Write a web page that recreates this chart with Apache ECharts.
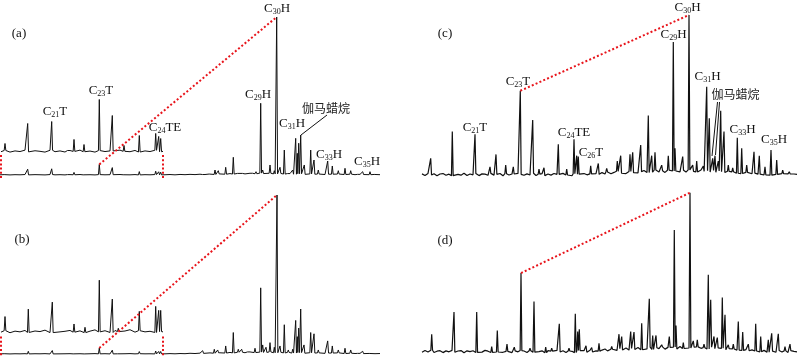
<!DOCTYPE html>
<html>
<head>
<meta charset="utf-8">
<script src="https://cdn.jsdelivr.net/npm/echarts@6/dist/echarts.min.js"></script>
<style>html,body{margin:0;padding:0;background:#fff}#c{width:800px;height:361px}</style>
</head>
<body>
<div id="c"></div>
<script>
// ---------- DATA (relative abundance, C30H = 100; time in arbitrary retention units) ----------
// Panel (a)
const aWindow = [1, 163];               // early-eluting window that is magnified in the inset
const aEarly = [[5,1.14],[27.7,3.67],[51.7,3.92],[68.3,0.38],[74,1.65],[84,1.01],[99.3,6.71],[112.3,4.68],[124,0.89],[139.3,2.15],[155.7,2.41],[158.7,2.03],[160.7,1.77]];
const aLate = [[203.3,0.63],[210,0.95],[215,3.16],[218.3,2.72],[225.7,4.87],[233.3,11.2],[238.3,2.09],[241.7,1.46],[251.7,1.08],[256,2.09],[260.7,45.4],[262.7,3.16],[270,6.33],[274.3,2.72],[276.7,100],[280,4.87],[284.3,15.8],[288.3,2.09],[292.7,3.16],[295.7,23.2],[297.3,13.7],[298.7,20.1],[300.7,25.3],[304.3,6.33],[310.7,15.8],[314,9.49],[318.3,3.16],[327.7,8.86],[332.3,5.7],[338.3,2.72],[345,4.24],[350.7,2.72],[358.3,1.46],[362.7,2.09],[370,2.09],[375,1.08]];
const aNoise = [0.1,0.25,0.05,0.2,0.12,0.3,0.08,0.22,0.15,0.05,0.28,0.1,0.2,0.06,0.25,0.14,0.3,0.1,0.18,0.05,0.24,0.12,0.2,0.08,0.3,0.15,0.1,0.26,0.06,0.2,0.12,0.28,0.1,
  0.15,0.3,0.1,0.35,0.2,0.4,0.25,0.5,0.3,0.6,0.35,0.7,0.5,0.9,0.6,1.0,0.7,1.1,0.8,1.2,0.9,1.1,0.7,1.0,0.6,0.9,0.5,0.8,0.4,0.7,0.5,0.6,0.3,0.5,0.4,0.6,0.3,0.5,0.2,0.4,0.3,0.2,0.35,0.2];
const aNoiseStep = 5;
const aLink = [99.3, 276.7];            // C23T -> C30H

// Panel (b)
const bWindow = [1, 163];
const bEarly = [[5,1.17],[28.3,1.69],[52.3,2.18],[74,0.65],[85,0.42],[99.3,3.71],[112.3,2.39],[118.3,0.35],[139.3,1.53],[155.7,1.88],[158.7,1.6],[160.7,1.6]];
const bLate = [[202.7,2.09],[214.3,2.97],[217.7,2.53],[225.7,5.06],[233.3,13.5],[238.3,2.97],[241.7,2.97],[248.3,2.53],[255,3.61],[260.7,41.6],[262.7,5.7],[266,4.24],[270,7.15],[274.3,4.24],[277,100],[280,5.06],[284.3,18.4],[288.3,2.53],[292.7,2.97],[295.7,21.1],[297.3,10.9],[298.7,16.3],[300.7,28.3],[304,5.7],[310.7,13.5],[314,12.7],[318.3,2.53],[327.7,8.23],[332.3,5.06],[338.3,2.53],[345,3.61],[350.7,2.53],[358.3,1.46],[362.7,1.71],[370,1.46]];
const bNoise = [0.08,0.18,0.04,0.15,0.1,0.2,0.06,0.16,0.12,0.22,0.05,0.18,0.1,0.14,0.2,0.08,0.17,0.05,0.15,0.24,0.1,0.18,0.06,0.2,0.12,0.16,0.25,0.08,0.18,0.1,0.14,0.06,0.12,
  0.1,0.25,0.12,0.3,0.2,0.45,0.3,0.55,0.4,0.7,0.5,0.8,0.6,1.0,0.7,1.1,0.8,1.3,0.9,1.2,1.0,1.3,0.8,1.1,0.7,1.0,0.6,0.9,0.5,0.8,0.6,0.7,0.4,0.6,0.5,0.7,0.3,0.5,0.3,0.4,0.25,0.35,0.2,0.3];
const bNoiseStep = 5;
const bLink = [99.3, 277];

// Panel (c)
const cPeaks = [[8.7,10.1],[30.3,26.9],[53,25.2],[68,4.85],[74,12.6],[83.7,5.86],[91.3,4.85],[98.3,52.5],[110.7,34.2],[117,3.34],[122,4.22],[136.3,18.9],[144.7,3.34],[152,22.1],[154.7,11.8],[156.3,11.2],[168.7,5.48],[176.3,6.93],[184.7,3.78],[195.3,8.38],[198.7,11.8],[208,12.6],[210.7,13.9],[218.7,18.5],[226.3,37.0],[229.7,11.8],[233,13.9],[239.7,5.86],[246.3,11.8],[251.3,83],[253,16.4],[260.7,11.2],[267,100],[270.7,5.86],[274.7,8.38],[281.3,5.23],[284.7,55],[287.3,35.3],[290.7,10.1],[293,11.8],[296.3,8.38],[298.7,39.9],[302,26.9],[306.3,5.86],[310.7,4.22],[315.3,23.1],[319.7,16.4],[324.7,5.86],[332,14.3],[337.3,11.8],[343,4.85],[349,15.3],[354.7,9.0],[360.7,2.71],[367.3,1.7]];
const cNoise = [0.4,-0.6,0.7,-0.3,0.5,-0.8,0.3,0.6,-0.5,0.2,-0.7,0.5,0.1,-0.4,0.8,-0.6,0.3,-0.2,0.6,-0.7,0.4,0.2,-0.5,0.7,-0.4,0.1,0.6,-0.8,0.5,-0.3,0.3,-0.6,0.7,0.1,-0.5,0.4,-0.3,0.8,-0.6,0.2,0.5,-0.7,0.3,-0.4,0.6,0.1,-0.5,0.7,-0.3,0.4,-0.8,0.5,0.2,-0.6,0.6,-0.2,0.4,-0.7,0.5,0.1,
  1.2,0.3,1.6,0.5,1.3,2.0,0.8,1.7,0.6,1.9,1.1,2.3,1.0,1.8,2.5,1.2,2.2,1.4,2.8,1.6,2.4,1.3,2.7,1.8,2.2,3.0,1.7,2.6,1.5,2.9,2.0,2.5,1.6,2.8,1.9,2.4,1.5,2.6,1.4,2.2,1.8,1.2,2.0,1.0,1.7,0.8,1.5,0.6,1.3,0.9,0.5,
  0.9,0.2,0.7,-0.3,0.6,-0.4,0.5,0.1,-0.5,0.6,-0.2,0.4,-0.6,0.3,0.1];
const cNoiseStep = 3;
const cLink = [98.3, 267];

// Panel (d)
const dPeaks = [[9.7,10.9],[32,24.8],[54.7,24.8],[69.7,3.15],[75.3,13.2],[85,4.6],[92.3,2.7],[99,49.4],[108,2.1],[112,31.5],[123.7,2.7],[129.7,2.1],[137.3,17.5],[147,2.1],[153.3,23.8],[155.7,12.6],[157.3,14.0],[164,3.6],[169.7,2.5],[177,5.2],[184.7,2.1],[189.7,3.15],[197,10.9],[199.7,9.45],[208.7,12.6],[212,12.2],[219.7,17.8],[227.3,33.2],[230.7,10.1],[234,10.1],[239.7,4.2],[247.3,9.45],[252.3,76.5],[254,16.4],[261.3,5.67],[268,100],[271.3,6.7],[275.3,7.4],[282,4.6],[286.3,48.3],[288.7,32.6],[292,9.45],[295.3,8.8],[300.3,34.0],[303,23.1],[306.3,4.2],[311.3,4.6],[316.3,18.9],[320.7,12.2],[326.3,4.6],[333.7,17.5],[338.7,9.45],[346.3,7.4],[349.7,11.5],[356.3,11.2],[363,3.15],[368,4.6]];
const dNoise = [-0.5,0.6,-0.3,0.8,-0.6,0.2,0.5,-0.7,0.4,-0.2,0.7,-0.5,0.3,0.6,-0.8,0.4,-0.1,0.5,-0.6,0.3,-0.4,0.7,0.2,-0.6,0.5,-0.3,0.8,-0.5,0.1,0.6,-0.7,0.4,-0.2,0.6,0.3,-0.6,0.5,-0.4,0.7,-0.1,0.4,-0.8,0.6,0.2,-0.5,0.7,-0.3,0.5,-0.6,0.3,0.1,-0.7,0.6,-0.2,0.5,-0.5,0.8,-0.3,0.4,0.2,
  0.9,1.6,0.4,1.4,2.0,0.7,1.8,1.0,2.2,0.9,1.9,1.3,2.5,1.1,2.1,1.6,2.7,1.3,2.4,1.8,2.9,1.5,2.6,2.0,2.8,1.6,3.1,1.9,2.5,2.2,2.7,1.7,2.9,2.0,2.4,1.6,2.7,1.8,2.3,1.4,2.0,1.1,1.8,1.3,1.6,0.9,1.4,0.7,1.2,0.5,1.0,
  0.3,0.8,-0.2,0.7,-0.4,0.5,0.2,-0.5,0.6,-0.3,0.4,-0.6,0.5,0.1,-0.2];
const dNoiseStep = 3;
const dLink = [99, 268];

// ---------- BUILDERS ----------
function trace(peaks, noise, step, lo, hi) {
  const foot = t => noise[Math.min(noise.length - 1, Math.max(0, Math.round(t / step)))];
  const pts = [];
  noise.forEach((v, i) => {
    const t = i * step;
    if (!peaks.some(p => Math.abs(p[0] - t) < 1.0)) pts.push([t, v]);
  });
  const w = 0.85;
  peaks.forEach(([t, h]) => { pts.push([t - w, foot(t)], [t, h], [t + w, foot(t)]); });
  pts.sort((p, q) => p[0] - q[0]);
  if (lo === undefined) return pts;
  const out = pts.filter(p => p[0] >= lo && p[0] <= hi);
  out.unshift([lo, foot(lo)]);
  out.push([hi, foot(hi)]);
  return out;
}
function linkData(peaks, link) {
  return link.map(t => peaks.find(p => p[0] === t));
}

const aAll = aEarly.concat(aLate), bAll = bEarly.concat(bLate);

const grids = [
  {left: 0, top: 17, width: 380, height: 158},          // (a)
  {left: 1, top: 34, width: 162, height: 118.5},        // (a) inset  (x5)
  {left: 0, top: 195, width: 380, height: 159},         // (b)
  {left: 1, top: 218.8, width: 162, height: 114.5},     // (b) inset  (x9)
  {left: 422, top: 15, width: 376, height: 159.5},      // (c)
  {left: 422, top: 192.7, width: 376, height: 158.8}    // (d)
];
const xr = [[0,380],[aWindow[0],aWindow[1]],[0,380],[bWindow[0],bWindow[1]],[0,376],[0,376]];
const yr = [[0,100],[0,15],[0,100],[0,8],[0,100],[0,100]];

const black = {color: '#111', width: 1};
const red = {color: '#e8141b', width: 2, type: [2, 2.2]};
function line(idx, data, style, z) {
  return {type: 'line', xAxisIndex: idx, yAxisIndex: idx, data, symbol: 'none', showSymbol: false,
    lineStyle: style, clip: false, z: z || 2, silent: true, animation: false, connectNulls: false};
}
function windowSides(win, yLo, yHi) {
  return [[win[0], yLo], [win[0], yHi], null, [win[1], yLo], [win[1], yHi]];
}

const series = [
  line(0, trace(aAll, aNoise, aNoiseStep), black),
  line(1, trace(aEarly, aNoise, aNoiseStep, aWindow[0], aWindow[1]), black),
  line(0, windowSides(aWindow, -1.9, 12.7), red, 5),
  line(0, linkData(aAll, aLink), red, 5),
  line(2, trace(bAll, bNoise, bNoiseStep), black),
  line(3, trace(bEarly, bNoise, bNoiseStep, bWindow[0], bWindow[1]), black),
  line(2, windowSides(bWindow, -0.8, 12.3), red, 5),
  line(2, linkData(bAll, bLink), red, 5),
  line(4, trace(cPeaks, cNoise, cNoiseStep), {color: '#111', width: 1.2}),
  line(4, linkData(cPeaks, cLink), red, 5),
  line(5, trace(dPeaks, dNoise, dNoiseStep), {color: '#111', width: 1.2}),
  line(5, linkData(dPeaks, dLink), red, 5)
];

// ---------- LABELS ----------
const serif = '"Liberation Serif", "Times New Roman", serif';
function lab(x, y, txt) {
  return {type: 'text', x, y, z: 100, silent: true, style: {
    text: txt, fill: '#111', fontSize: 13, fontFamily: serif, align: 'center', verticalAlign: 'middle', lineHeight: 14,
    rich: {s: {fontSize: 8, fontFamily: serif, fill: '#111', verticalAlign: 'bottom', lineHeight: 7}}}};
}
function cjk(x, y, txt) {
  return {type: 'text', x, y, z: 100, silent: true, style: {
    text: txt, fill: '#222', fontSize: 12, fontFamily: '"Noto Sans CJK SC"', align: 'center', verticalAlign: 'middle'}};
}
function lead(x1, y1, x2, y2) {
  return {type: 'line', z: 100, silent: true, shape: {x1, y1, x2, y2}, style: {stroke: '#111', lineWidth: 1}};
}
const graphic = [
  lab(19, 34, '(a)'), lab(22, 240, '(b)'), lab(445, 34, '(c)'), lab(445, 241, '(d)'),
  lab(55, 112, 'C{s|21}T'), lab(101, 91, 'C{s|23}T'), lab(165, 128, 'C{s|24}TE'),
  lab(258, 95, 'C{s|29}H'), lab(277, 8.5, 'C{s|30}H'), lab(292, 124, 'C{s|31}H'),
  cjk(326, 108, '伽马蜡烷'), lead(301, 135, 327, 115),
  lab(329, 155, 'C{s|33}H'), lab(367, 162, 'C{s|35}H'),
  lab(475, 128, 'C{s|21}T'), lab(518, 82, 'C{s|23}T'), lab(574, 133, 'C{s|24}TE'), lab(591, 152.5, 'C{s|26}T'),
  lab(673.5, 35, 'C{s|29}H'), lab(687.5, 7.5, 'C{s|30}H'), lab(707.5, 77, 'C{s|31}H'),
  cjk(735.5, 94.5, '伽马蜡烷'), lead(717.5, 102, 712, 156), lead(719.5, 102, 715.5, 155),
  lab(742.5, 130, 'C{s|33}H'), lab(774, 140, 'C{s|35}H')
];

const chart = echarts.init(document.getElementById('c'), null, {renderer: 'canvas'});
chart.setOption({
  animation: false,
  backgroundColor: '#fff',
  grid: grids,
  xAxis: xr.map((r, i) => ({type: 'value', gridIndex: i, min: r[0], max: r[1], show: false})),
  yAxis: yr.map((r, i) => ({type: 'value', gridIndex: i, min: r[0], max: r[1], show: false})),
  series,
  graphic
});
</script>
</body>
</html>
